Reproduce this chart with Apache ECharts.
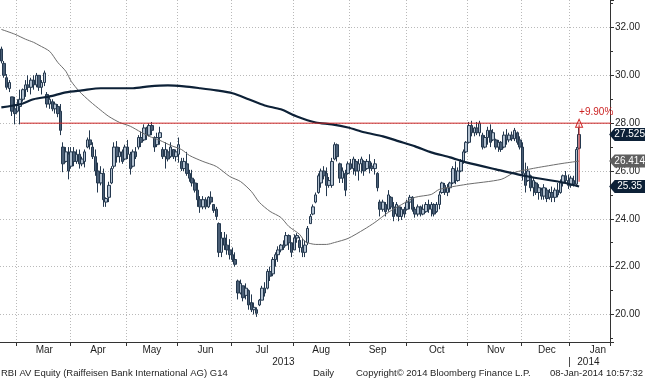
<!DOCTYPE html>
<html>
<head>
<meta charset="utf-8">
<script src="https://cdn.jsdelivr.net/npm/echarts@6/dist/echarts.min.js"></script>
<style>
html,body{margin:0;padding:0;background:#fff;}
#chart{width:645px;height:380px;}
</style>
</head>
<body>
<div id="chart"></div>
<script>
// ---------- DATA ----------
const firstDay = '2013-02-21';
const lastDay = '2014-01-31';
const visibleSlots = 227;
const holidays = ['2013-03-29','2013-04-01','2013-05-01','2013-05-09','2013-05-20','2013-05-30',
  '2013-08-15','2013-11-01','2013-12-24','2013-12-25','2013-12-26','2013-12-31','2014-01-01','2014-01-06'];
const monthNames = ['Jan','Feb','Mar','Apr','May','Jun','Jul','Aug','Sep','Oct','Nov','Dec'];

const priceOpen = [31.1,30.5,29.9,29.45,29.1,28.6,28.5,28.7,29.0,29.4,29.6,29.5,29.8,29.6,30.0,29.5,29.7,29.2,28.8,28.9,
28.6,28.7,28.5,27.0,26.4,26.7,26.2,26.8,26.4,26.7,26.3,26.4,27.0,27.3,27.0,26.6,26.0,25.5,25.9,24.7,
24.9,25.5,26.2,27.0,26.6,26.8,26.5,27.0,26.7,26.2,26.8,27.0,27.4,27.3,27.8,27.5,27.9,27.4,27.1,27.4,
26.9,26.6,26.8,26.6,26.9,26.6,26.7,26.4,26.1,26.3,25.9,25.7,25.5,25.2,24.8,24.5,24.8,24.5,24.9,24.6,
24.4,23.8,22.6,23.2,22.9,22.7,22.5,22.3,21.4,20.9,21.2,20.8,21.0,20.5,20.2,20.2,20.4,20.6,21.1,21.1,
21.8,21.7,22.3,22.5,22.7,22.9,22.9,23.3,23.0,22.7,23.2,23.1,22.8,22.6,23.0,23.8,24.2,24.7,25.1,25.5,
26.0,25.9,25.4,25.4,26.5,27.1,26.3,25.7,25.9,25.9,26.3,26.1,26.4,26.0,26.3,26.4,26.1,26.4,26.2,26.1,
25.9,24.7,24.4,24.6,24.4,24.9,24.5,24.2,24.5,24.1,24.4,24.4,24.7,24.9,24.4,24.2,24.5,24.2,24.3,24.6,
24.4,24.6,24.3,24.6,25.1,25.4,25.1,25.3,25.5,26.0,25.6,26.0,26.4,26.8,27.2,27.9,27.6,27.8,27.6,27.5,
27.0,27.4,27.7,27.3,27.3,27.0,27.2,27.0,27.5,27.3,27.5,27.35,27.6,27.3,27.0,25.9,25.6,25.8,25.3,25.5,
25.1,25.2,24.95,25.2,24.9,25.1,24.9,25.2,25.1,25.5,25.8,25.6,25.4,25.6,25.45,26.95];
const priceHigh = [31.2,30.6,30.05,29.8,29.1,29.1,29.0,29.4,29.45,29.8,30.0,29.9,30.0,30.1,30.0,29.8,30.2,29.3,29.1,29.0,
28.9,28.8,28.8,27.2,27.0,27.0,27.0,27.0,26.9,26.9,26.6,26.9,27.4,27.7,27.2,26.9,26.35,26.2,26.1,24.9,
25.55,26.2,27.2,27.25,27.0,26.9,27.1,27.3,26.8,26.9,27.0,27.5,27.65,27.95,27.85,28.0,28.05,27.45,27.6,27.85,
27.0,27.2,26.9,27.2,26.9,26.9,27.4,26.55,26.55,26.8,26.05,26.05,25.65,25.5,24.95,24.95,24.9,24.95,25.15,24.6,
24.5,23.85,23.45,23.45,23.35,23.15,22.8,22.6,21.46,21.46,21.2,21.3,21.05,20.84,20.5,20.3,20.65,21.2,21.35,21.9,
22.0,22.4,22.6,22.85,22.95,23.1,23.45,23.35,23.0,23.35,23.4,23.25,23.2,23.1,23.7,24.2,24.6,25.1,25.9,26.1,
26.2,26.15,25.75,26.55,27.2,27.15,26.35,26.15,26.05,26.4,26.5,26.6,26.5,26.5,26.6,26.45,26.5,26.7,26.35,26.5,
25.95,24.8,24.8,24.7,25.2,24.95,24.7,24.7,24.55,24.5,24.5,24.8,25.0,24.95,24.5,24.6,24.55,24.6,24.7,24.8,
24.7,24.65,24.7,25.15,25.55,25.5,25.45,25.55,26.2,26.4,26.15,26.5,26.9,27.25,28.05,28.1,27.85,28.05,28.1,27.6,
27.5,27.85,27.95,27.75,27.35,27.3,27.25,27.65,27.75,27.6,27.65,27.8,27.65,27.45,27.2,26.35,26.2,25.85,25.75,25.55,
25.45,25.3,25.45,25.3,25.25,25.35,25.3,25.5,25.65,25.85,26.0,25.85,25.8,25.8,27.0,27.8];
const priceLow = [30.5,29.9,29.4,29.3,28.3,27.95,28.45,27.95,28.9,29.1,29.3,29.2,29.4,29.5,29.35,29.2,29.55,28.65,28.6,28.5,
28.4,28.25,27.5,25.95,26.35,25.65,26.1,26.2,26.3,26.1,26.2,26.15,26.95,26.9,26.5,25.8,25.1,25.4,24.5,24.5,
24.7,25.45,26.1,26.35,26.35,26.3,26.45,26.5,25.85,26.15,26.5,26.9,27.0,27.25,27.3,27.45,27.5,26.8,27.0,27.1,
26.5,26.1,26.4,26.55,26.5,26.4,26.35,26.0,26.0,25.8,25.55,25.35,25.1,24.5,24.25,24.4,24.4,24.45,24.6,24.25,
23.95,22.4,22.4,22.7,22.5,22.3,22.2,22.0,20.63,20.84,20.55,20.63,20.2,20.1,20.0,19.9,20.35,20.6,20.75,21.05,
21.4,21.6,22.0,22.2,22.6,22.7,22.85,22.7,22.4,22.7,23.0,22.6,22.4,22.4,22.9,23.8,24.15,24.65,25.05,25.3,
25.65,24.95,25.3,25.3,26.45,26.4,25.5,25.5,24.95,25.85,26.05,25.85,25.8,25.6,25.9,25.8,26.05,25.9,26.0,25.85,
25.15,24.1,24.3,24.1,24.3,24.4,23.9,24.1,23.9,23.95,24.05,24.35,24.4,24.3,24.05,24.1,24.1,24.15,24.25,24.25,
24.1,24.1,24.25,24.4,25.05,25.0,24.95,25.1,25.45,25.45,25.55,25.95,26.3,26.75,27.15,27.45,27.45,27.5,27.45,26.9,
26.95,27.1,27.0,27.25,26.9,26.8,26.8,26.95,27.1,27.2,27.25,27.25,27.1,26.9,25.6,25.1,25.55,25.15,24.95,25.0,
24.8,24.8,24.8,24.7,24.8,24.7,24.7,24.9,25.05,25.35,25.5,25.25,25.3,25.35,25.35,26.9];
const priceClose = [30.6,30.0,29.5,29.7,28.5,28.4,28.8,29.0,29.4,29.6,29.5,29.8,29.6,30.0,29.5,29.7,30.1,28.8,29.0,28.6,
28.8,28.4,27.7,26.3,26.8,26.0,26.8,26.4,26.7,26.3,26.5,26.8,27.3,27.1,26.6,26.0,25.5,25.9,24.8,24.85,
25.4,26.1,27.0,26.6,26.8,26.4,27.0,26.7,26.1,26.8,26.6,27.4,27.2,27.8,27.5,27.9,27.7,27.0,27.4,27.6,
26.6,26.9,26.5,27.0,26.6,26.8,27.1,26.1,26.4,25.9,25.7,25.5,25.2,24.8,24.5,24.8,24.5,24.9,24.7,24.35,
24.1,22.6,23.2,22.9,22.7,22.5,22.3,22.1,20.9,21.3,20.7,21.1,20.4,20.2,20.3,20.05,20.6,21.1,20.9,21.8,
21.6,22.3,22.5,22.7,22.9,22.8,23.3,23.0,22.6,23.2,23.3,22.8,22.6,22.9,23.6,24.1,24.5,25.0,25.8,26.0,
25.8,25.4,25.6,26.4,27.1,26.6,25.7,26.0,25.2,26.3,26.1,26.5,26.0,26.3,26.5,26.0,26.4,26.2,26.1,26.3,
25.3,24.4,24.7,24.3,25.0,24.5,24.1,24.6,24.1,24.4,24.2,24.7,24.9,24.4,24.2,24.5,24.2,24.4,24.6,24.4,
24.6,24.2,24.6,25.0,25.5,25.1,25.3,25.5,26.1,25.6,26.0,26.4,26.8,27.2,27.9,27.6,27.8,27.6,28.0,27.0,
27.4,27.7,27.2,27.6,27.0,27.2,26.9,27.5,27.3,27.5,27.35,27.7,27.2,27.0,25.9,25.4,26.0,25.3,25.6,25.1,
25.3,24.95,25.3,24.85,25.1,24.9,25.2,25.0,25.5,25.8,25.6,25.4,25.7,25.45,26.9,27.525];

// moving averages read at sample points: [slot index, value]
const ma50Points = [[0,31.92],[5,31.72],[9,31.51],[12,31.38],[14,31.26],[18,31.0],[21,30.54],[24,30.17],[26,29.75],
[29,29.33],[33,28.91],[37,28.54],[40,28.28],[44,28.03],[48,27.87],[52,27.62],[55,27.45],[59,27.28],[63,27.07],
[67,26.9],[70,26.65],[75,26.4],[80,26.19],[85,25.77],[89,25.56],[93,25.15],[96,24.69],[100,24.31],[104,24.06],
[107,23.68],[111,23.35],[113,23.05],[117,22.93],[121,22.93],[124,23.01],[129,23.18],[135,23.56],[139,23.85],
[144,24.27],[149,24.6],[154,24.9],[160,25.02],[163,25.23],[173,25.44],[186,25.65],[191,25.94],[198,26.11],
[202,26.19],[209,26.32],[215,26.414]];
const ma200Points = [[0,28.66],[7,28.79],[12,29.0],[18,29.12],[24,29.29],[30,29.37],[37,29.46],[43,29.46],[49,29.46],
[55,29.54],[62,29.58],[68,29.54],[74,29.46],[80,29.37],[86,29.25],[92,29.0],[98,28.74],[104,28.58],[110,28.28],
[117,28.03],[123,27.95],[129,27.82],[135,27.62],[142,27.45],[148,27.24],[154,27.03],[160,26.78],[167,26.57],
[173,26.36],[184,26.07],[196,25.77],[209,25.52],[215,25.35]];

const lastClose = 27.525, lastMa50 = 26.414, lastMa200 = 25.35;
const resistanceLevel = 28.0, resistanceStartIdx = 7;
const moveIdx = 215, moveFrom = 25.55, moveTo = 27.95, moveText = '+9.90%';

const footerLeft = 'RBI AV Equity (Raiffeisen Bank International AG) G14';
const footerMid = 'Daily';
const footerCopy = 'Copyright\u00A9 2014 Bloomberg Finance L.P.';
const footerRight = '08-Jan-2014 10:57:32';

// ---------- BUILD ----------
function tradingDays() {
  const out = [];
  let d = new Date(firstDay + 'T00:00:00Z');
  const end = new Date(lastDay + 'T00:00:00Z');
  while (d <= end) {
    const wd = d.getUTCDay();
    const s = d.toISOString().slice(0, 10);
    if (wd !== 0 && wd !== 6 && holidays.indexOf(s) < 0) out.push(s);
    d = new Date(d.getTime() + 86400000);
  }
  return out;
}
const categories = tradingDays();
const maxIdx = visibleSlots - 1;

const monthStart = new Set();
const monthGroups = [];
categories.forEach((c, i) => {
  const key = c.slice(0, 7);
  if (!monthGroups.length || monthGroups[monthGroups.length - 1].key !== key) {
    monthGroups.push({ key, first: i, last: i });
    if (i > 0) monthStart.add(i);
  } else monthGroups[monthGroups.length - 1].last = i;
});
const monthLabelIdx = new Set();
monthGroups.slice(1).forEach(g => {
  const m = Math.round((g.first + g.last) / 2);
  if (m <= maxIdx) monthLabelIdx.add(m);
});
// year axis uses boundaryGap:false, so a year's boundary sits at (firstIndex - 1)
const yearLabelIdx = new Set();
const yearSep = new Set();
let yFirst = 0;
for (let i = 1; i <= maxIdx + 1; i++) {
  if (i === maxIdx + 1 || categories[i].slice(0, 4) !== categories[i - 1].slice(0, 4)) {
    yearLabelIdx.add(Math.floor((yFirst + i - 2) / 2));
    if (i <= maxIdx) yearSep.add(i - 1);
    yFirst = i;
  }
}

const candleData = priceOpen.map((o, i) => [o, priceClose[i], priceLow[i], priceHigh[i]]);

const FONT = 'Liberation Sans, Arial, sans-serif';
const TXT = '#1e1e1e';
const RED = '#cc2424';
const NAVY = '#0d2137';
const GRAYTAG = '#5f5f5f';
const GRIDC = '#b9b9b9';
const tagPath = 'path://M0,7 L6,0 L40,0 L40,14 L6,14 Z';
const redLine = { color: RED, width: 1, type: 'solid', opacity: 1 };

function tag(value, color) {
  return {
    coord: [maxIdx, value], value: value,
    symbol: tagPath, symbolSize: [37, 13], symbolOffset: [19, 0],
    itemStyle: { color: color },
    label: { show: true, position: 'inside', offset: [2, 0], formatter: String(value),
      color: '#fff', fontSize: 10, fontFamily: FONT }
  };
}
const footStyle = { fontSize: 9.5, fontWeight: 'normal', color: TXT, fontFamily: FONT };

const chart = echarts.init(document.getElementById('chart'), null, { renderer: 'canvas' });
chart.setOption({
  animation: false,
  backgroundColor: '#fff',
  textStyle: { fontFamily: FONT },
  title: [
    { text: footerLeft, left: 1, top: 368, padding: 0, textStyle: footStyle },
    { text: footerMid, left: 313, top: 368, padding: 0, textStyle: footStyle },
    { text: footerCopy, left: 356, top: 368, padding: 0, textStyle: footStyle },
    { text: footerRight, right: 2, top: 368, padding: 0, textStyle: footStyle }
  ],
  grid: { left: 0, right: 35, top: 0, bottom: 38, containLabel: false },
  xAxis: [{
    type: 'category', data: categories, max: maxIdx, boundaryGap: true,
    axisLine: { lineStyle: { color: '#333', width: 1 } },
    axisTick: { show: true, length: 4, interval: (i) => monthStart.has(i), lineStyle: { color: '#333' } },
    axisLabel: { interval: (i) => monthLabelIdx.has(i), formatter: (v) => monthNames[+v.slice(5, 7) - 1],
      color: TXT, fontSize: 10, margin: 3, fontFamily: FONT },
    splitLine: { show: true, interval: (i) => monthStart.has(i), lineStyle: { color: GRIDC, type: [1, 2], width: 1 } }
  }, {
    type: 'category', data: categories, max: maxIdx, boundaryGap: false, position: 'bottom', offset: 15,
    axisLine: { show: false },
    axisTick: { show: false },
    axisLabel: { interval: (i) => yearLabelIdx.has(i) || yearSep.has(i),
      formatter: (v, i) => (yearSep.has(i) ? '|' : v.slice(0, 4)),
      color: TXT, fontSize: 10, margin: 0, fontFamily: FONT },
    splitLine: { show: false }
  }],
  yAxis: {
    type: 'value', position: 'right', min: 18.85, max: 33.15, splitNumber: 7, scale: true,
    axisLine: { show: true, lineStyle: { color: '#333' } },
    axisTick: { show: true, length: 4, lineStyle: { color: '#333' } },
    minorTick: { show: true, splitNumber: 2, length: 3, lineStyle: { color: '#333' } },
    axisLabel: { showMinLabel: false, showMaxLabel: false, color: TXT, fontSize: 10, margin: 5, fontFamily: FONT,
      formatter: (v) => (Math.abs(v - Math.round(v)) < 1e-6 ? v.toFixed(2) : '') },
    splitLine: { show: true, showMinLine: false, showMaxLine: false, lineStyle: { color: GRIDC, type: [1, 2] } }
  },
  series: [{
    type: 'candlestick', name: 'RBI AV', data: candleData, barWidth: 3, z: 3,
    itemStyle: { color: '#b3c1d0', color0: '#4a5e75', borderColor: '#24384e', borderColor0: '#24384e', borderWidth: 1 },
    markPoint: {
      silent: true,
      data: [
        { coord: [moveIdx, resistanceLevel], symbol: 'triangle', symbolSize: [7, 8],
          itemStyle: { color: '#fff', borderColor: RED, borderWidth: 1 },
          label: { show: true, formatter: moveText, position: 'top', align: 'left', distance: 1, offset: [0, 0],
            color: RED, fontSize: 10, fontFamily: FONT } },
        tag(lastClose, NAVY)
      ]
    }
  }, {
    type: 'line', name: 'MA50', data: ma50Points, showSymbol: false, smooth: 0.25, z: 4,
    lineStyle: { color: '#6d6d6d', width: 1 },
    markPoint: { silent: true, data: [tag(lastMa50, GRAYTAG)] }
  }, {
    type: 'line', name: 'MA200', data: ma200Points, showSymbol: false, smooth: 0.25, z: 5,
    lineStyle: { color: NAVY, width: 2.2 },
    markPoint: { silent: true, data: [tag(lastMa200, NAVY)] }
  }, {
    type: 'line', name: 'Level', data: [[resistanceStartIdx, resistanceLevel], [maxIdx + 0.5, resistanceLevel]],
    showSymbol: false, z: 6, lineStyle: redLine, itemStyle: { color: RED }, silent: true
  }, {
    type: 'line', name: 'Move', data: [[moveIdx, moveFrom], [moveIdx, moveTo]],
    showSymbol: false, z: 6, lineStyle: redLine, itemStyle: { color: RED }, silent: true
  }]
});
</script>
</body>
</html>
